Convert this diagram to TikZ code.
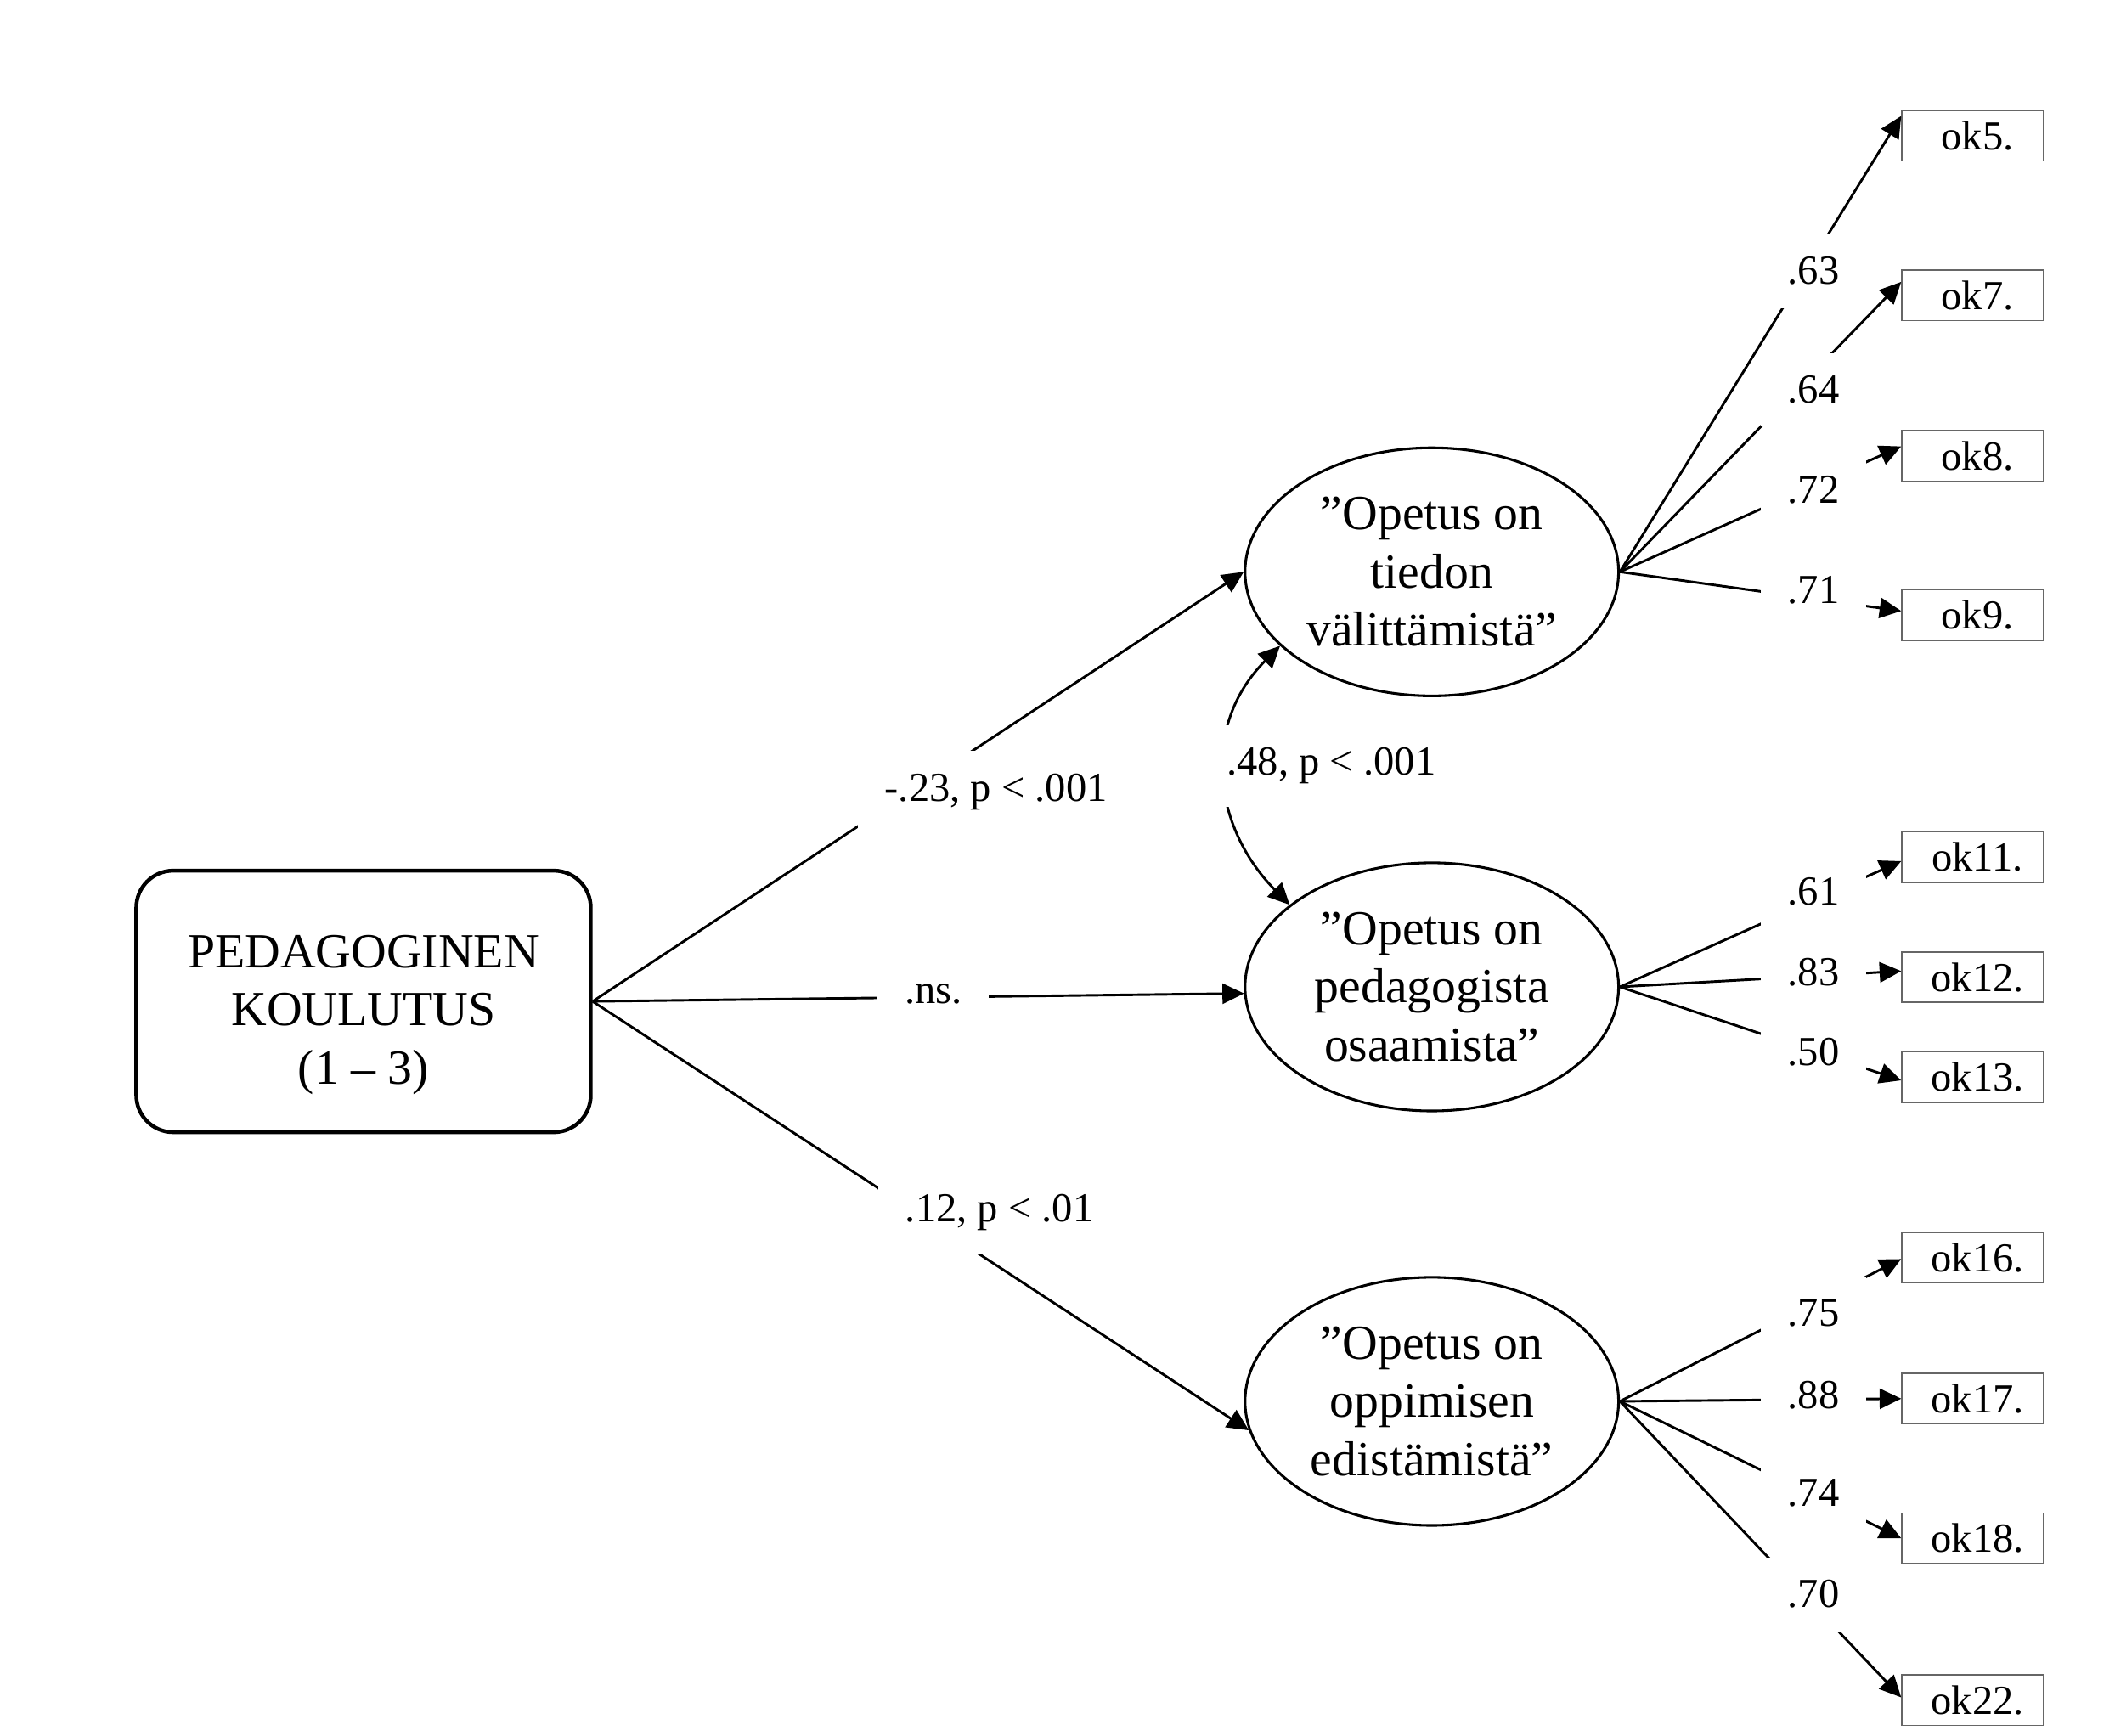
\documentclass[tikz,border=0pt]{standalone}
\usepackage{fontspec}
\setmainfont{Liberation Serif}
\usetikzlibrary{shapes.geometric,arrows.meta,calc}
\begin{document}
\begin{tikzpicture}[x=0.02cm,y=-0.02cm,
  bigtext/.style={font=\fontsize{20.7}{24.5}\selectfont, align=center},
  smalltext/.style={font=\fontsize{17.4}{21}\selectfont},
  lat/.style={ellipse, draw, line width=1.1pt, minimum width=5.54cm, minimum height=3.68cm, inner sep=0pt, bigtext},
  pedbox/.style={rectangle, rounded corners=0.55cm, draw, line width=1.6pt, minimum width=6.74cm, minimum height=3.88cm, inner sep=0pt},
  obs/.style={rectangle, draw=black!60, line width=0.6pt, minimum width=2.1cm, minimum height=0.75cm, inner sep=0pt, smalltext},
  coef/.style={fill=white, inner xsep=0.4cm, inner ysep=0.34cm, smalltext},
  tip/.tip={Triangle[length=0.32cm,width=0.3cm]},
  conn/.style={line width=1.05pt, -tip},
  ]
\path[use as bounding box, fill=white] (0,0) rectangle (1568,1287);

% main box
\node[pedbox] (ped) at (269.5,742.5) {};
\node[bigtext, inner sep=0pt] (pedtext) at ($(ped.center)+(0,10)$) {PEDAGOGINEN\\KOULUTUS\\(1 – 3)};

% latent factors
\node[lat] (e1) at (1061.5,424) {”Opetus on\\tiedon\\välittämistä”};
\node[lat] (e2) at (1061.5,731.7) {”Opetus on\\pedagogista\\osaamista”};
\node[lat] (e3) at (1061.5,1039) {”Opetus on\\oppimisen\\edistämistä”};

% observed items
\node[obs] (ok5)  at (1462.5,100.5) {\hspace{4pt}ok5.};
\node[obs] (ok7)  at (1462.5,219) {\hspace{4pt}ok7.};
\node[obs] (ok8)  at (1462.5,338) {\hspace{4pt}ok8.};
\node[obs] (ok9)  at (1462.5,456) {\hspace{4pt}ok9.};
\node[obs] (ok11) at (1462.5,635.5) {\hspace{4pt}ok11.};
\node[obs] (ok12) at (1462.5,724.5) {\hspace{4pt}ok12.};
\node[obs] (ok13) at (1462.5,798.5) {\hspace{4pt}ok13.};
\node[obs] (ok16) at (1462.5,932.5) {\hspace{4pt}ok16.};
\node[obs] (ok17) at (1462.5,1037) {\hspace{4pt}ok17.};
\node[obs] (ok18) at (1462.5,1140.5) {\hspace{4pt}ok18.};
\node[obs] (ok22) at (1462.5,1260.5) {\hspace{4pt}ok22.};

% structural paths
\draw[conn] (ped.east) -- (e1.west);
\draw[conn] (ped.east) -- (e2.182);
\draw[conn] (ped.east) -- (e3.189);
\draw[line width=1.05pt, tip-tip] (e1.206) .. controls (890,538) and (899,613) .. (e2.150);

% loadings
\draw[conn] (e1.east) -- ($(ok5.west)+(0,-14.5)$);
\draw[conn] (e1.east) -- ($(ok7.west)+(0,-10)$);
\draw[conn] (e1.east) -- ($(ok8.west)+(0,-7)$);
\draw[conn] (e1.east) -- ($(ok9.west)+(0,-3)$);
\draw[conn] (e2.east) -- ($(ok11.west)+(0,3)$);
\draw[conn] (e2.east) -- ($(ok12.west)+(0,-4.5)$);
\draw[conn] (e2.east) -- ($(ok13.west)+(0,2.5)$);
\draw[conn] (e3.east) -- ($(ok16.west)+(0,1)$);
\draw[conn] (e3.east) -- (ok17.west);
\draw[conn] (e3.east) -- (ok18.west);
\draw[conn] (e3.east) -- ($(ok22.west)+(0,-2)$);

% coefficient labels
\node[coef] (b1) at (738.5,587) {-.23, p < .001};
\node[coef] (b2) at (692,737) {.ns.};
\node[coef] (b3) at (741,899) {.12, p < .01};
\node[coef] (r12) at (987,568) {.48, p < .001};

\node[coef] (l5)  at (1344.5,201) {.63};
\node[coef] (l7)  at (1344.5,289) {.64};
\node[coef] (l8)  at (1344.5,363) {.72};
\node[coef] (l9)  at (1344.5,437.5) {.71};
\node[coef] (l11) at (1344.5,661) {.61};
\node[coef] (l12) at (1344.5,721) {.83};
\node[coef] (l13) at (1344.5,780) {.50};
\node[coef] (l16) at (1344.5,973.6) {.75};
\node[coef] (l17) at (1344.5,1034.5) {.88};
\node[coef] (l18) at (1344.5,1107) {.74};
\node[coef] (l22) at (1344.5,1182) {.70};
\end{tikzpicture}
\end{document}
